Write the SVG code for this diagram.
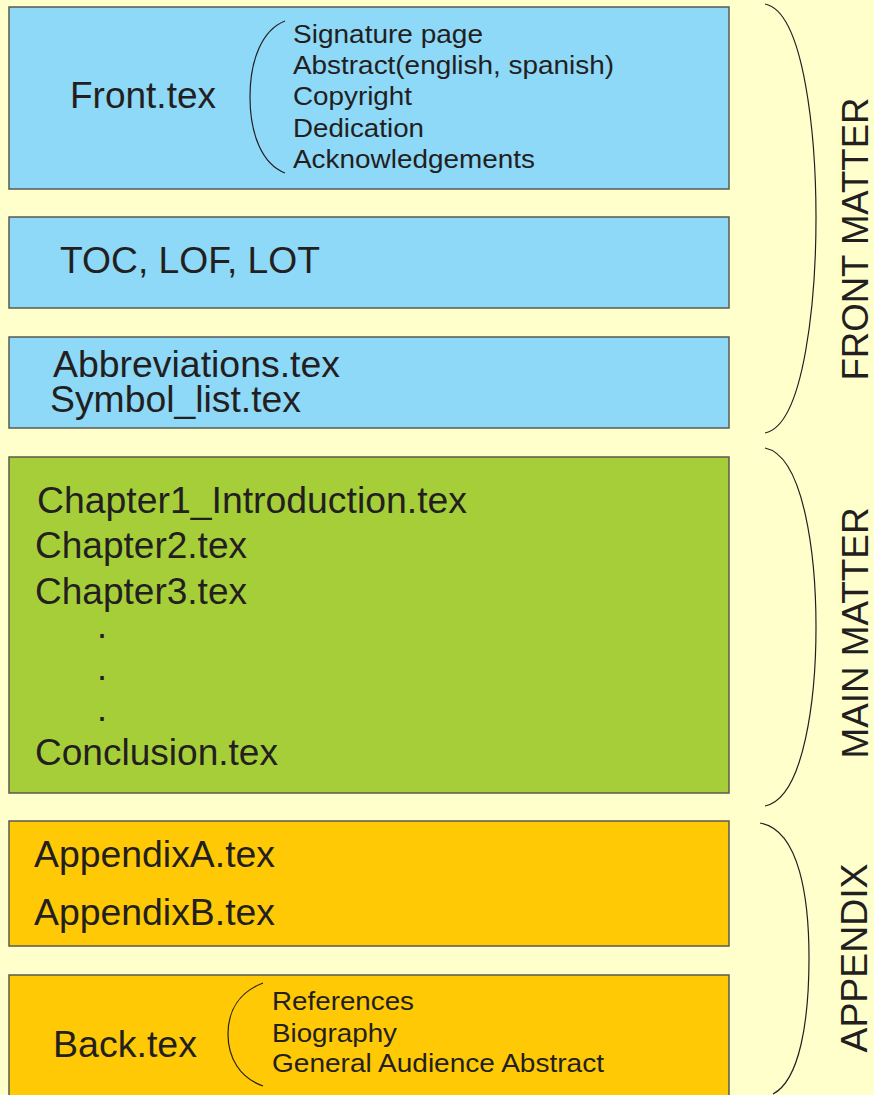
<svg xmlns="http://www.w3.org/2000/svg" width="874" height="1095" viewBox="0 0 874 1095">
<style>
.box{stroke:#5a5a50;stroke-width:1.5}
.blue{fill:#8ED8F8}
.green{fill:#A6CE39}
.orange{fill:#FFC905}
.big{font-family:"Liberation Sans",Arial,sans-serif;font-size:36px;fill:#231F20}
.small{font-family:"Liberation Sans",Arial,sans-serif;font-size:25px;fill:#231F20}
.side{font-family:"Liberation Sans",Arial,sans-serif;font-size:37px;fill:#231F20;text-anchor:middle}
.brace{fill:none;stroke:#231F20;stroke-width:1.2}
</style>
<rect x="0" y="0" width="874" height="1095" fill="#FFFFCC"/>
<g id="front">
<rect class="box blue" x="9" y="7" width="720" height="182"/>
<text class="big" x="70" y="108" textLength="146" lengthAdjust="spacingAndGlyphs">Front.tex</text>
<path class="brace" d="M285,21 C262,30 250,60 250,97 C250,134 262,164 285,173"/>
<text class="small" x="293" y="43" textLength="190" lengthAdjust="spacingAndGlyphs">Signature page</text>
<text class="small" x="293" y="74" textLength="321" lengthAdjust="spacingAndGlyphs">Abstract(english, spanish)</text>
<text class="small" x="293" y="105" textLength="119" lengthAdjust="spacingAndGlyphs">Copyright</text>
<text class="small" x="293" y="137" textLength="131" lengthAdjust="spacingAndGlyphs">Dedication</text>
<text class="small" x="293" y="168" textLength="242" lengthAdjust="spacingAndGlyphs">Acknowledgements</text>
</g>
<g id="toc">
<rect class="box blue" x="9" y="217" width="720" height="91"/>
<text class="big" x="60" y="273" textLength="260" lengthAdjust="spacingAndGlyphs">TOC, LOF, LOT</text>
</g>
<g id="abbrev">
<rect class="box blue" x="9" y="337" width="720" height="91"/>
<text class="big" x="53" y="377" textLength="287" lengthAdjust="spacingAndGlyphs">Abbreviations.tex</text>
<text class="big" x="50" y="412" textLength="251" lengthAdjust="spacingAndGlyphs">Symbol_list.tex</text>
</g>
<g id="main">
<rect class="box green" x="9" y="457" width="720" height="336"/>
<text class="big" x="37" y="513" textLength="430" lengthAdjust="spacingAndGlyphs">Chapter1_Introduction.tex</text>
<text class="big" x="35" y="558" textLength="212" lengthAdjust="spacingAndGlyphs">Chapter2.tex</text>
<text class="big" x="35" y="604" textLength="212" lengthAdjust="spacingAndGlyphs">Chapter3.tex</text>
<text class="big" x="97" y="638">.</text>
<text class="big" x="97" y="680">.</text>
<text class="big" x="97" y="721">.</text>
<text class="big" x="35" y="765" textLength="243" lengthAdjust="spacingAndGlyphs">Conclusion.tex</text>
</g>
<g id="appendix">
<rect class="box orange" x="9" y="821" width="720" height="125"/>
<text class="big" x="34" y="867" textLength="241" lengthAdjust="spacingAndGlyphs">AppendixA.tex</text>
<text class="big" x="34" y="925" textLength="241" lengthAdjust="spacingAndGlyphs">AppendixB.tex</text>
</g>
<g id="back">
<rect class="box orange" x="9" y="975" width="720" height="130"/>
<text class="big" x="53" y="1057" textLength="144" lengthAdjust="spacingAndGlyphs">Back.tex</text>
<path class="brace" d="M263,983 C240,992 228,1010 228,1034 C228,1058 240,1078 263,1086"/>
<text class="small" x="272" y="1010" textLength="142" lengthAdjust="spacingAndGlyphs">References</text>
<text class="small" x="272" y="1042" textLength="125" lengthAdjust="spacingAndGlyphs">Biography</text>
<text class="small" x="272" y="1072" textLength="332" lengthAdjust="spacingAndGlyphs">General Audience Abstract</text>
</g>
<g id="connectors">
<path class="brace" d="M765,4 C805,12 816,140 816,218 C816,296 805,425 765,433"/>
<path class="brace" d="M765,448 C805,456 816,560 816,627 C816,694 805,798 765,806"/>
<path class="brace" d="M760,823 C800,830 809,900 809,958 C809,1020 800,1080 773,1094"/>
</g>
<g id="labels">
<text class="side" transform="translate(868,239) rotate(-90)" textLength="283" lengthAdjust="spacingAndGlyphs">FRONT MATTER</text>
<text class="side" transform="translate(868,633) rotate(-90)" textLength="251" lengthAdjust="spacingAndGlyphs">MAIN MATTER</text>
<text class="side" transform="translate(867,958) rotate(-90)" textLength="189" lengthAdjust="spacingAndGlyphs">APPENDIX</text>
</g>
</svg>
